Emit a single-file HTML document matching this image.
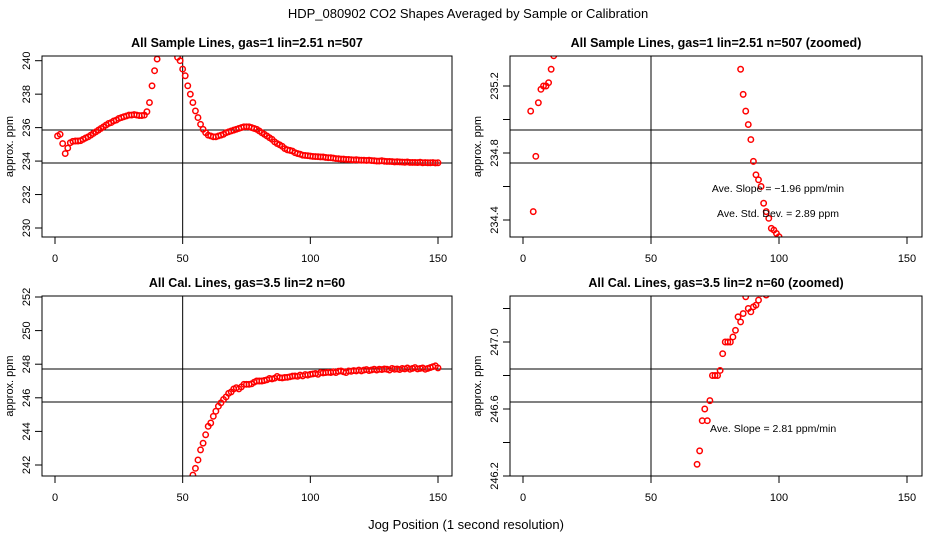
<!DOCTYPE html>
<html><head><meta charset="utf-8"><style>
html,body{margin:0;padding:0;background:#fff;overflow:hidden;width:936px;height:540px;}
svg{display:block;font-family:"Liberation Sans",sans-serif;}
</style></head><body>
<svg id="c" width="936" height="540" viewBox="0 0 936 540">
<text x="468" y="18" text-anchor="middle" font-size="13">HDP_080902  CO2 Shapes Averaged by Sample or Calibration</text>
<text x="466" y="529" text-anchor="middle" font-size="13">Jog Position (1 second resolution)</text>
</svg>
<script>
// Sample series (x = 1..150)
const sampleX = [];
for (let i = 1; i <= 150; i++) sampleX.push(i);
const sampleY = [235.5,235.6,235.05,234.45,234.78,235.1,235.18,235.2,235.2,235.22,
235.3,235.38,235.45,235.55,235.65,235.75,235.85,235.95,236.05,236.15,
236.25,236.3,236.4,236.45,236.55,236.6,236.65,236.7,236.75,236.75,
236.78,236.75,236.72,236.72,236.75,236.95,237.5,238.5,239.4,240.1,
241.0,241.5,241.7,241.6,241.3,240.9,240.5,240.2,240.0,239.5,
239.1,238.5,238.0,237.5,237.0,236.6,236.2,235.9,235.7,235.55,
235.5,235.45,235.45,235.5,235.55,235.6,235.7,235.75,235.8,235.85,
235.9,235.95,236.0,236.05,236.05,236.05,236.0,235.95,235.9,235.8,
235.7,235.6,235.5,235.4,235.3,235.15,235.05,234.97,234.88,234.75,
234.67,234.64,234.6,234.5,234.45,234.41,234.35,234.34,234.32,234.3,
234.28,234.27,234.26,234.25,234.25,234.22,234.2,234.2,234.18,234.15,
234.14,234.12,234.12,234.1,234.1,234.08,234.07,234.08,234.06,234.05,
234.05,234.04,234.05,234.03,234.02,234.0,234.0,234.02,233.99,233.98,
233.98,233.97,233.95,233.96,233.95,233.94,233.93,233.95,233.92,233.92,
233.92,233.91,233.93,233.9,233.91,233.9,233.9,233.91,233.89,233.9];
// Calibration series (x = 54..150)
const calX = [];
for (let i = 54; i <= 150; i++) calX.push(i);
const calY = [241.4,241.8,242.3,242.9,243.3,243.8,244.3,244.5,244.9,245.2,
245.5,245.7,245.9,246.05,246.27,246.35,246.53,246.6,246.53,246.65,
246.8,246.8,246.8,246.83,246.93,247.0,247.0,247.0,247.03,247.07,
247.15,247.12,247.17,247.27,247.2,247.18,247.21,247.22,247.25,247.29,
247.3,247.28,247.35,247.3,247.38,247.35,247.4,247.42,247.45,247.4,
247.5,247.48,247.5,247.52,247.5,247.55,247.5,247.58,247.6,247.55,
247.5,247.6,247.58,247.62,247.6,247.65,247.6,247.65,247.68,247.62,
247.66,247.7,247.65,247.7,247.68,247.72,247.7,247.65,247.75,247.7,
247.72,247.68,247.75,247.72,247.78,247.7,247.75,247.8,247.72,247.75,
247.78,247.7,247.75,247.8,247.85,247.9,247.78];
const xTicks = [0,50,100,150];
const tlTicks = [230,232,234,236,238,240];
const trTicks = [234.4,234.6,234.8,235.0,235.2];
const trLabels = ['234.4','','234.8','','235.2'];
const blTicks = [242,244,246,248,250,252];
const brTicks = [246.2,246.4,246.6,246.8,247.0,247.2];
const brLabels = ['246.2','','246.6','','247.0',''];
const refLineX = 50;

const svg = document.getElementById('c');
const NS = 'http://www.w3.org/2000/svg';
function mk(tag, attrs, parent) {
  const e = document.createElementNS(NS, tag);
  for (const k in attrs) e.setAttribute(k, attrs[k]);
  (parent || svg).appendChild(e);
  return e;
}
function panel(id, title, box, xd, yd, ticks, labels, xs, ys, hl, notes) {
  const g = mk('g', {});
  
  
  const sx = v => box.x0 + (v - xd[0]) / (xd[1] - xd[0]) * (box.x1 - box.x0);
  const sy = v => box.y0 + (v - yd[0]) / (yd[1] - yd[0]) * (box.y1 - box.y0);
  const t = mk('text', {x: (box.l + box.r) / 2, y: box.t - 9, 'text-anchor': 'middle', 'font-size': 12.5, 'font-weight': 'bold'}, g);
  t.textContent = title;
  
  
  const cid = 'clip-' + id;
  const cp = mk('clipPath', {id: cid}, g);
  mk('rect', {x: box.l, y: box.t, width: box.r - box.l, height: box.b - box.t}, cp);
  const pg = mk('g', {'clip-path': 'url(#' + cid + ')'}, g);
  
  
  for (const h of hl) mk('line', {x1: box.l, x2: box.r, y1: h, y2: h, stroke: '#000', 'stroke-width': 1}, pg);
  const vx = sx(refLineX);
  mk('line', {x1: vx, x2: vx, y1: box.t, y2: box.b, stroke: '#000', 'stroke-width': 1}, pg);
  for (let i = 0; i < xs.length; i++) {
    const cx = sx(xs[i]), cy = sy(ys[i]);
    if (cy < box.t - 4 || cy > box.b + 4 || cx < box.l - 4 || cx > box.r + 4) continue;
    const c = mk('circle', {cx: cx, cy: cy, r: 2.7, fill: 'none', stroke: '#f00', 'stroke-width': 1.5}, pg);
    
    
  }
  mk('rect', {x: box.l, y: box.t, width: box.r - box.l, height: box.b - box.t, fill: 'none', stroke: '#000', 'stroke-width': 1}, g);
  const xa = mk('g', {}, g);
  
  
  for (const v of xTicks) {
    const x = sx(v);
    mk('line', {x1: x, x2: x, y1: box.b, y2: box.b + 7, stroke: '#000'}, xa);
    const tt = mk('text', {x: x, y: box.b + 25, 'text-anchor': 'middle', 'font-size': 11}, xa);
    tt.textContent = v;
  }
  const ya = mk('g', {}, g);
  
  
  ticks.forEach((v, i) => {
    const y = sy(v);
    mk('line', {x1: box.l, x2: box.l - 7, y1: y, y2: y, stroke: '#000'}, ya);
    if (labels[i]) {
      const tt = mk('text', {x: 0, y: 0, 'text-anchor': 'middle', 'font-size': 11, transform: 'translate(' + (box.l - 12) + ',' + y + ') rotate(-90)'}, ya);
      tt.textContent = labels[i];
    }
  });
  const yl = mk('text', {x: 0, y: 0, 'text-anchor': 'middle', 'font-size': 11, transform: 'translate(' + (box.l - 29) + ',' + ((box.t + box.b) / 2) + ') rotate(-90)'}, g);
  yl.textContent = 'approx. ppm';
  
  
  for (const n of notes) {
    const nt = mk('text', {x: n.x, y: n.y, 'text-anchor': n.a, 'font-size': 10.5}, g);
    nt.textContent = n.s;
    
    
  }
}
panel('sample-panel', 'All Sample Lines, gas=1 lin=2.51 n=507',
  {l: 42, r: 452, t: 56, b: 237, x0: 55, x1: 438, y0: 228, y1: 60.7}, [0,150], [230,240],
  tlTicks, tlTicks.map(String), sampleX, sampleY, [130,163], []);
panel('sample-zoom-panel', 'All Sample Lines, gas=1 lin=2.51 n=507 (zoomed)',
  {l: 510, r: 922, t: 56, b: 237, x0: 523, x1: 907, y0: 220, y1: 86}, [0,150], [234.4,235.2],
  trTicks, trLabels, sampleX, sampleY, [130,163],
  [{x: 778, y: 192, a: 'middle', s: 'Ave. Slope =  \u22121.96  ppm/min'},
   {x: 778, y: 217, a: 'middle', s: 'Ave. Std. Dev. =  2.89  ppm'}]);
panel('cal-panel', 'All Cal. Lines, gas=3.5 lin=2 n=60',
  {l: 42, r: 452, t: 296, b: 476, x0: 55, x1: 438, y0: 465, y1: 297}, [0,150], [242,252],
  blTicks, blTicks.map(String), calX, calY, [369,402], []);
panel('cal-zoom-panel', 'All Cal. Lines, gas=3.5 lin=2 n=60 (zoomed)',
  {l: 510, r: 922, t: 296, b: 476, x0: 523, x1: 907, y0: 476, y1: 342}, [0,150], [246.2,247.0],
  brTicks, brLabels, calX, calY, [369,402],
  [{x: 710, y: 432, a: 'start', s: 'Ave. Slope =  2.81  ppm/min'}]);
</script>
</body></html>
